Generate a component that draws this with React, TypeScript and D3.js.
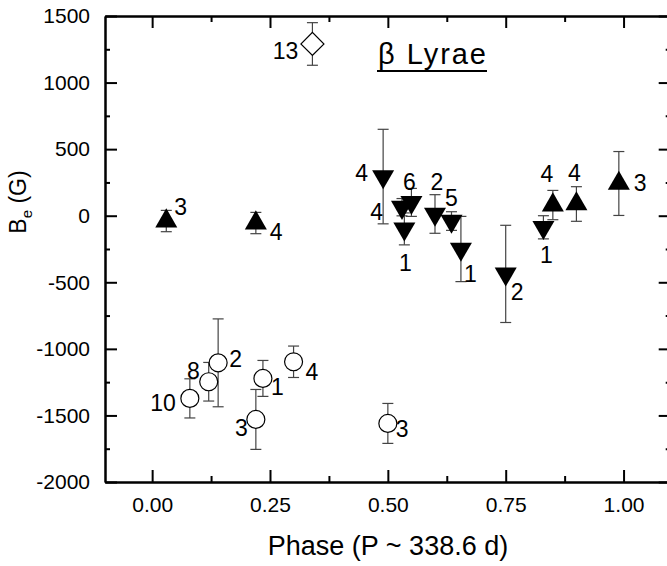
import React, { useEffect, useRef } from "react";
import * as d3 from "d3";

// filled up triangles
const upPhase = [0.03, 0.22, 0.85, 0.9, 0.99];
const upBe = [-40, -55, 80, 88, 242];
const upErr = [80, 80, 110, 130, 240];
const upNum = ["3", "4", "4", "4", "3"];

// filled down triangles
const downPhase = [0.49, 0.53, 0.55, 0.535, 0.6, 0.635, 0.655, 0.75, 0.83];
const downBe = [294, 64, 100, -99, 13, -40, -250, -437, -87];
const downErr = [355, 65, 105, 120, 145, 70, 245, 365, 87];
const downNum = ["4", "4", "6", "1", "2", "5", "1", "2", "1"];

// open circles
const circPhase = [0.08, 0.12, 0.14, 0.235, 0.22, 0.3, 0.5];
const circBe = [-1372, -1247, -1105, -1222, -1530, -1097, -1560];
const circErr = [147, 145, 330, 135, 225, 118, 150];
const circNum = ["10", "8", "2", "1", "3", "4", "3"];

// open diamond
const diaPhase = [0.34];
const diaBe = [1290];
const diaErr = [160];
const diaNum = ["13"];

const xMajor = [0, 0.25, 0.5, 0.75, 1];
const xMinor = [0.125, 0.375, 0.625, 0.875];
const yMajor = [-2000, -1500, -1000, -500, 0, 500, 1000, 1500];
const yMinor = [-1750, -1250, -750, -250, 250, 750, 1250];

// where the count label sits next to its marker: [dx, dy, anchor]
const upLabelAt = [[8, -6, "start"], [14, 17, "start"], [-6, -23, "middle"], [-2, -23, "middle"], [15, 8, "start"]];
const downLabelAt = [[-15, 4, "end"], [-19, 13, "end"], [-2, -12, "middle"], [1, 42, "middle"], [2, -24, "middle"], [0, -15, "middle"], [3, 33, "start"], [5, 26, "start"], [3, 36, "middle"]];
const circLabelAt = [[-14, 13, "end"], [-9, -3, "end"], [11, 4, "start"], [8, 17, "start"], [-8, 17, "end"], [12, 18, "start"], [8, 14, "start"]];
const diaLabelAt = [[-14, 15, "end"]];

const FONT = "'Liberation Sans', Arial, Helvetica, sans-serif";

function App() {
  const ref = useRef(null);
  const width = 667;
  const height = 566;

  useEffect(() => {
    const svg = d3.select(ref.current);
    svg.selectAll("*").remove();

    const x = d3.scaleLinear().domain([-0.1, 1.1]).range([105, 670.7]);
    const y = d3.scaleLinear().domain([-2000, 1500]).range([482, 16]);

    const styleAxis = (g, labels) => {
      g.selectAll("path.domain").attr("stroke", "#000").attr("stroke-width", 2);
      g.selectAll(".tick line").attr("stroke", "#000").attr("stroke-width", 2);
      g.attr("font-family", FONT).attr("font-size", 21);
      g.selectAll(".tick text").attr("fill", "#000");
      if (!labels) g.selectAll(".tick text").remove();
    };

    // bottom
    svg.append("g").attr("transform", `translate(0,${y(-2000)})`)
      .call(d3.axisBottom(x).tickValues(xMajor).tickSize(-12).tickSizeOuter(0).tickPadding(15).tickFormat(d3.format(".2f")))
      .call((g) => styleAxis(g, true));
    svg.append("g").attr("transform", `translate(0,${y(-2000)})`)
      .call(d3.axisBottom(x).tickValues(xMinor).tickSize(-6).tickSizeOuter(0).tickFormat(() => ""))
      .call((g) => styleAxis(g, false));
    // top
    svg.append("g").attr("transform", `translate(0,${y(1500)})`)
      .call(d3.axisTop(x).tickValues(xMajor).tickSize(-12).tickSizeOuter(0).tickFormat(() => ""))
      .call((g) => styleAxis(g, false));
    svg.append("g").attr("transform", `translate(0,${y(1500)})`)
      .call(d3.axisTop(x).tickValues(xMinor).tickSize(-6).tickSizeOuter(0).tickFormat(() => ""))
      .call((g) => styleAxis(g, false));
    // left
    svg.append("g").attr("transform", `translate(${x(-0.1)},0)`)
      .call(d3.axisLeft(y).tickValues(yMajor).tickSize(-12).tickSizeOuter(0).tickPadding(15).tickFormat((d) => String(d)))
      .call((g) => styleAxis(g, true));
    svg.append("g").attr("transform", `translate(${x(-0.1)},0)`)
      .call(d3.axisLeft(y).tickValues(yMinor).tickSize(-5).tickSizeOuter(0).tickFormat(() => ""))
      .call((g) => styleAxis(g, false));
    // right
    svg.append("g").attr("transform", `translate(${x(1.1)},0)`)
      .call(d3.axisRight(y).tickValues(yMajor).tickSize(-12).tickSizeOuter(0).tickFormat(() => ""))
      .call((g) => styleAxis(g, false));
    svg.append("g").attr("transform", `translate(${x(1.1)},0)`)
      .call(d3.axisRight(y).tickValues(yMinor).tickSize(-5).tickSizeOuter(0).tickFormat(() => ""))
      .call((g) => styleAxis(g, false));

    // axis titles
    svg.append("text")
      .attr("x", 388).attr("y", 555)
      .attr("text-anchor", "middle")
      .attr("font-family", FONT).attr("font-size", 27)
      .text("Phase (P ~ 338.6 d)");

    const yt = svg.append("text")
      .attr("transform", "translate(26,202) rotate(-90)")
      .attr("text-anchor", "middle")
      .attr("font-family", FONT).attr("font-size", 23);
    yt.append("tspan").text("B");
    yt.append("tspan").attr("font-size", 15).attr("dy", 6).text("e");
    yt.append("tspan").attr("dy", -6).text(" (G)");

    // star name, underlined
    const name = svg.append("text")
      .attr("x", 378).attr("y", 64)
      .attr("font-family", FONT).attr("font-size", 29)
      .attr("textLength", 108).attr("lengthAdjust", "spacing")
      .text("\u03b2 Lyrae");
    const nb = name.node().getBBox();
    svg.append("line")
      .attr("x1", nb.x - 1).attr("x2", nb.x + nb.width + 1)
      .attr("y1", 71).attr("y2", 71)
      .attr("stroke", "#000").attr("stroke-width", 2);

    const groups = [
      { ph: upPhase, be: upBe, err: upErr, num: upNum, lab: upLabelAt, type: "up" },
      { ph: downPhase, be: downBe, err: downErr, num: downNum, lab: downLabelAt, type: "down" },
      { ph: circPhase, be: circBe, err: circErr, num: circNum, lab: circLabelAt, type: "circle" },
      { ph: diaPhase, be: diaBe, err: diaErr, num: diaNum, lab: diaLabelAt, type: "diamond" },
    ];

    // error bars first
    const bars = svg.append("g").attr("stroke", "#444").attr("stroke-width", 1.2).attr("fill", "none");
    groups.forEach((grp) => {
      grp.ph.forEach((p, i) => {
        const cx = x(p);
        const top = y(grp.be[i] + grp.err[i]);
        const bot = y(grp.be[i] - grp.err[i]);
        bars.append("line").attr("x1", cx).attr("x2", cx).attr("y1", top).attr("y2", bot);
        bars.append("line").attr("x1", cx - 5.5).attr("x2", cx + 5.5).attr("y1", top).attr("y2", top);
        bars.append("line").attr("x1", cx - 5.5).attr("x2", cx + 5.5).attr("y1", bot).attr("y2", bot);
      });
    });

    const tri = d3.symbol().type(d3.symbolTriangle).size(210);
    const circ = d3.symbol().type(d3.symbolCircle).size(254);
    const sq = d3.symbol().type(d3.symbolSquare).size(265);

    groups.forEach((grp) => {
      grp.ph.forEach((p, i) => {
        const cx = x(p);
        const cy = y(grp.be[i]);
        if (grp.type === "up") {
          svg.append("path").attr("d", tri()).attr("transform", `translate(${cx},${cy})`).attr("fill", "#000");
        } else if (grp.type === "down") {
          svg.append("path").attr("d", tri()).attr("transform", `translate(${cx},${cy}) rotate(180)`).attr("fill", "#000");
        } else if (grp.type === "circle") {
          svg.append("path").attr("d", circ()).attr("transform", `translate(${cx},${cy})`).attr("fill", "#fff").attr("stroke", "#000").attr("stroke-width", 1.2);
        } else {
          svg.append("path").attr("d", sq()).attr("transform", `translate(${cx},${cy}) rotate(45)`).attr("fill", "#fff").attr("stroke", "#000").attr("stroke-width", 1.2);
        }
        const [dx, dy, anchor] = grp.lab[i];
        svg.append("text")
          .attr("x", cx + dx).attr("y", cy + dy)
          .attr("text-anchor", anchor)
          .attr("font-family", FONT).attr("font-size", 23)
          .text(grp.num[i]);
      });
    });
  }, []);

  return (
    <div style={{ position: "absolute", left: 0, top: 0 }}>
      <svg ref={ref} width={width} height={height} style={{ display: "block", background: "#fff" }}></svg>
    </div>
  );
}

export default App;
